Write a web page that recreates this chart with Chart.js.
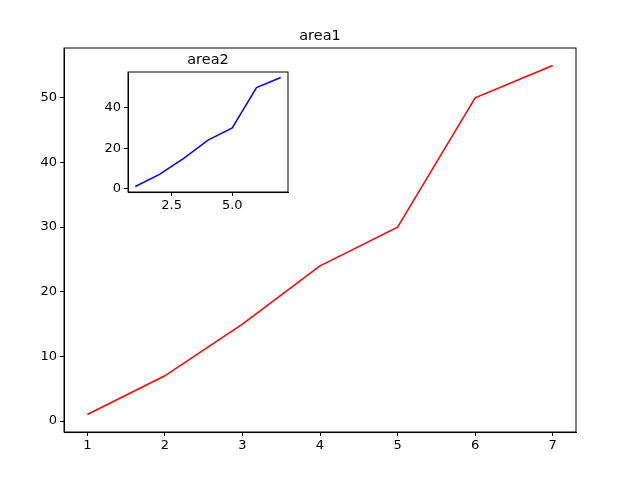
<!DOCTYPE html>
<html><head><script src="https://cdn.jsdelivr.net/npm/chart.js@4"></script>
<style>body{margin:0;background:#fff}#c1{position:absolute;left:0;top:0}#c2{position:absolute;left:78px;top:40px}</style>
</head><body>
<canvas id="c1" width="640" height="480"></canvas>
<canvas id="c2" width="220" height="180"></canvas>
<script>
const xs=[1,2,3,4,5,6,7];
const ys=[1,7,15,24,30,50,55];
const mainXTicks=[1,2,3,4,5,6,7];
const mainYTicks=[0,10,20,30,40,50];
const insetXTicks=[2.5,5.0];
const insetYTicks=[0,20,40];
const FONT={family:'DejaVu Sans',size:13};
const frame={id:'frame',
 beforeDraw(c){const a=c.chartArea,x=c.ctx;x.save();x.fillStyle='#fff';x.fillRect(a.left,a.top,a.right-a.left,a.bottom-a.top);x.restore();},
 afterDraw(c){const a=c.chartArea,x=c.ctx;x.save();x.strokeStyle='#000';x.lineWidth=1;x.strokeRect(a.left,a.top,a.right-a.left,a.bottom-a.top);
 x.fillStyle='#000';x.font='14.5px DejaVu Sans';x.textAlign='center';x.textBaseline='bottom';x.fillText(c.options.plugins.ttl,(a.left+a.right)/2,a.top-5);x.restore();}};
function mk(id,color,xt,yt,pad,yw,xh,fmt){
 new Chart(document.getElementById(id),{type:'line',
 data:{datasets:[{data:xs.map((v,i)=>({x:v,y:ys[i]})),borderColor:color,borderWidth:1.5,pointRadius:0,tension:0}]},
 options:{responsive:false,animation:false,layout:{padding:pad},
 plugins:{legend:{display:false},tooltip:{enabled:false},ttl:id==='c1'?'area1':'area2'},
 scales:{
  x:{type:'linear',min:0.7,max:7.3,afterFit(s){s.height=xh},afterBuildTicks(s){s.ticks=xt.map(v=>({value:v}))},
   grid:{drawOnChartArea:false,tickLength:4,color:'#000'},border:{color:'#000'},
   ticks:{color:'#000',font:FONT,padding:2,maxRotation:0,autoSkip:false,callback:v=>fmt?v.toFixed(1):v}},
  y:{type:'linear',min:-1.7,max:57.7,afterFit(s){s.width=yw},afterBuildTicks(s){s.ticks=yt.map(v=>({value:v}))},
   grid:{drawOnChartArea:false,tickLength:4,color:'#000'},border:{color:'#000'},
   ticks:{color:'#000',font:FONT,padding:3,autoSkip:false}}}},
 plugins:[frame]});
}
mk('c1','#ff0000',mainXTicks,mainYTicks,{top:48,right:64,left:0,bottom:0},64,48,false);
mk('c2','#0000ff',insetXTicks,insetYTicks,{top:32,right:10,left:0,bottom:0},50,28,true);
</script></body></html>
